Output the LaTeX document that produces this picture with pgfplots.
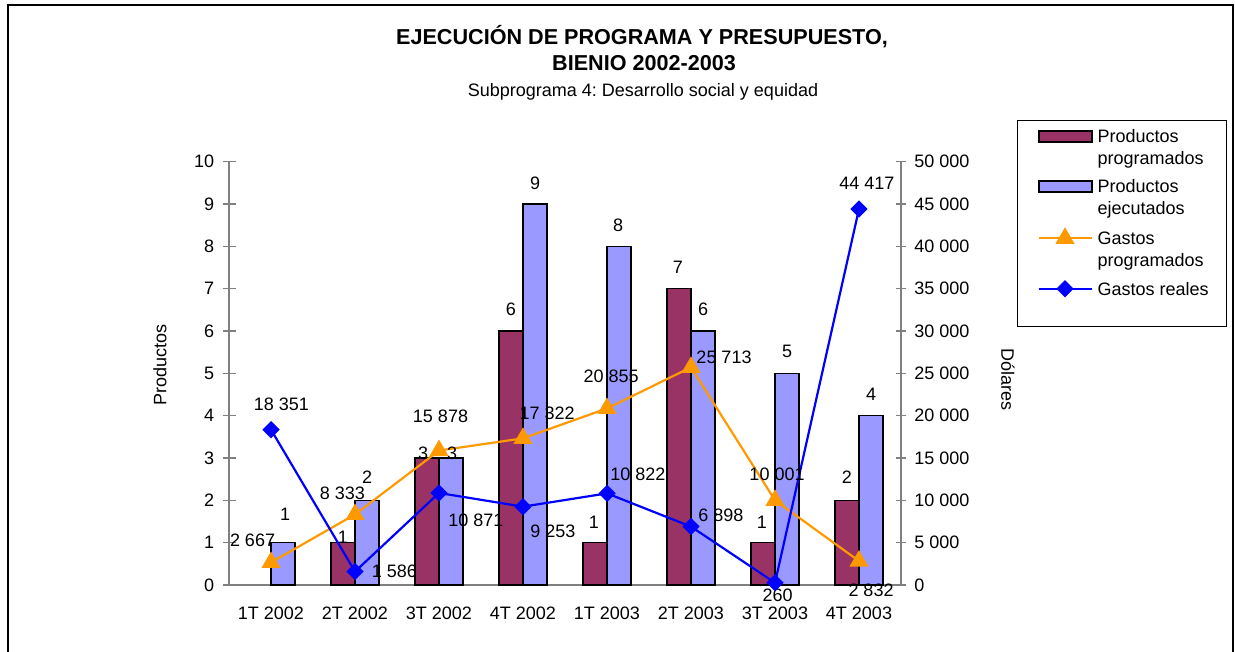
\documentclass[border=0pt]{standalone}
\usepackage{fontspec}
\setmainfont{Liberation Sans}
\usepackage{pgfplots}
\pgfplotsset{compat=1.18}
\frenchspacing
\definecolor{prog}{HTML}{993366}
\definecolor{ejec}{HTML}{9999FF}
\definecolor{gprog}{HTML}{FF9900}
\definecolor{greal}{HTML}{0000FF}
\definecolor{axgray}{HTML}{808080}
\newcommand{\fs}{\fontsize{9}{11}\selectfont}
\pgfplotsset{
  barlegend/.style={legend image code/.code={\draw[##1] (0pt,11.4pt) rectangle (26.5pt,16.9pt);}},
  linelegendtwo/.style={legend image code/.code={\draw[mark repeat=2,mark phase=2,##1] plot coordinates {(0pt,14.2pt) (13.25pt,14.2pt) (26.5pt,14.2pt)};}},
  linelegend/.style={legend image code/.code={\draw[mark repeat=2,mark phase=2,##1] plot coordinates {(0pt,3.2pt) (13.25pt,3.2pt) (26.5pt,3.2pt)};}},
}
\begin{document}
\begin{tikzpicture}
\path[use as bounding box] (0,0) rectangle (617.5pt,-326pt);
\draw[line width=1pt] (4pt,-326pt) -- (4pt,-2.5pt) -- (616.5pt,-2.5pt) -- (616.5pt,-326pt);
\node[anchor=base, font=\bfseries\fontsize{10.8}{13}\selectfont, inner sep=0pt] at (321pt,-22.5pt) {EJECUCIÓN DE PROGRAMA Y PRESUPUESTO,};
\node[anchor=base, font=\bfseries\fontsize{10.8}{13}\selectfont, inner sep=0pt] at (322pt,-35.5pt) {BIENIO 2002-2003};
\node[anchor=base, font=\fs, inner sep=0pt] at (321.5pt,-48.5pt) {Subprograma 4: Desarrollo social y equidad};
\draw[line width=0.5pt] (508.5pt,-60.5pt) rectangle (613pt,-163pt);

\begin{axis}[
  at={(114.5pt,-292.5pt)}, anchor=south west,
  scale only axis, width=336pt, height=211.67pt,
  xmin=-0.5, xmax=7.5, ymin=0, ymax=10,
  axis x line*=bottom, axis y line*=left,
  axis line style={axgray, line width=0.6pt},
  tick align=center,
  ytick={0,1,2,3,4,5,6,7,8,9,10},
  yticklabels={0,1,2,3,4,5,6,7,8,9,10},
  y tick style={axgray, line width=0.6pt},
  major tick length=6.5pt,
  xtick={0,...,7},
  xticklabels={1T 2002,2T 2002,3T 2002,4T 2002,1T 2003,2T 2003,3T 2003,4T 2003},
  x tick style={draw=none},
  minor xtick={-0.5,0.5,...,7.5},
  minor x tick style={axgray, line width=0.6pt},
  minor tick length=5pt,
  xticklabel style={font=\fs, anchor=north, inner sep=0pt, yshift=-7.5pt},
  yticklabel style={font=\fs, anchor=east, inner sep=0pt, xshift=-4pt},
  ylabel={Productos},
  ylabel style={font=\fs, at={(axis description cs:-0.1027,0.5197)}, anchor=center},
  clip=false,
]
\addplot[ybar, bar width=12pt, bar shift=-6pt, fill=prog, draw=black, line width=0.8pt]
  coordinates {(1,1) (2,3) (3,6) (4,1) (5,7) (6,1) (7,2)};
\addplot[ybar, bar width=12pt, bar shift=6pt, fill=ejec, draw=black, line width=0.8pt]
  coordinates {(0,1) (1,2) (2,3) (3,9) (4,8) (5,6) (6,5) (7,4)};
\end{axis}

\begin{axis}[
  at={(114.5pt,-292.5pt)}, anchor=south west,
  scale only axis, width=336pt, height=211.67pt,
  xmin=-0.5, xmax=7.5, ymin=0, ymax=50000,
  axis x line=none, axis y line*=right,
  axis line style={axgray, line width=0.6pt},
  tick align=center,
  major tick length=5pt,
  scaled y ticks=false,
  ytick={0,5000,10000,15000,20000,25000,30000,35000,40000,45000,50000},
  yticklabels={0,5 000,10 000,15 000,20 000,25 000,30 000,35 000,40 000,45 000,50 000},
  y tick style={axgray, line width=0.6pt},
  yticklabel style={font=\fs, anchor=west, inner sep=0pt, xshift=4pt},
  ylabel={Dólares},
  ylabel style={font=\fs, at={(axis description cs:1.1592,0.4843)}, anchor=center, rotate=180},
  clip=false,
  legend style={draw=none, fill=none, at={(axis description cs:1.2024,1.0772)}, anchor=north west,
    inner sep=0pt, row sep=6pt, column sep=2.5pt,
    cells={align=left, anchor=base west},
    nodes={font=\fs, inner sep=0pt}},
]
\addlegendimage{barlegend, fill=prog, draw=black, line width=1pt}
\addlegendentry{Productos\\programados}
\addlegendimage{barlegend, fill=ejec, draw=black, line width=1pt}
\addlegendentry{Productos\\ejecutados}
\addplot[gprog, line width=1.1pt, mark=triangle*, mark size=4.4pt, linelegendtwo]
  coordinates {(0,2667) (1,8333) (2,15878) (3,17322) (4,20855) (5,25713) (6,10001) (7,2832)};
\addlegendentry{Gastos\\programados}
\addplot[greal, line width=1.1pt, mark=square*, mark size=2.5pt, mark options={rotate=45}, linelegend]
  coordinates {(0,18351) (1,1586) (2,10871) (3,9253) (4,10822) (5,6898) (6,260) (7,44417)};
\addlegendentry{Gastos reales}
\begin{scope}[every node/.style={font=\fs, inner sep=0pt}]
\node at (axis cs:0.125,21380) {18 351};
\node at (axis cs:-0.220,5315) {2 667};
\node at (axis cs:0.167,8385) {1};
\node at (axis cs:0.851,10865) {8 333};
\node at (axis cs:1.143,12755) {2};
\node at (axis cs:0.857,5670) {1};
\node at (axis cs:1.470,1655) {1 586};
\node at (axis cs:2.018,19960) {15 878};
\node at (axis cs:1.810,15590) {3};
\node at (axis cs:2.155,15590) {3};
\node at (axis cs:2.440,7680) {10 871};
\node at (axis cs:3.286,20315) {17 322};
\node at (axis cs:2.857,32600) {6};
\node at (axis cs:3.143,47485) {9};
\node at (axis cs:3.357,6380) {9 253};
\node at (axis cs:3.845,7440) {1};
\node at (axis cs:4.048,24685) {20 855};
\node at (axis cs:4.131,42525) {8};
\node at (axis cs:4.845,37560) {7};
\node at (axis cs:5.143,32600) {6};
\node at (axis cs:5.393,26930) {25 713};
\node at (axis cs:6.143,27640) {5};
\node at (axis cs:7.095,47485) {44 417};
\node at (axis cs:4.369,13110) {10 822};
\node at (axis cs:5.357,8270) {6 898};
\node at (axis cs:5.845,7440) {1};
\node at (axis cs:6.024,13110) {10 001};
\node at (axis cs:6.857,12755) {2};
\node at (axis cs:7.143,22560) {4};
\node at (axis cs:6.030,-1180) {260};
\node at (axis cs:7.143,-590) {2 832};
\end{scope}
\end{axis}
\end{tikzpicture}
\end{document}
